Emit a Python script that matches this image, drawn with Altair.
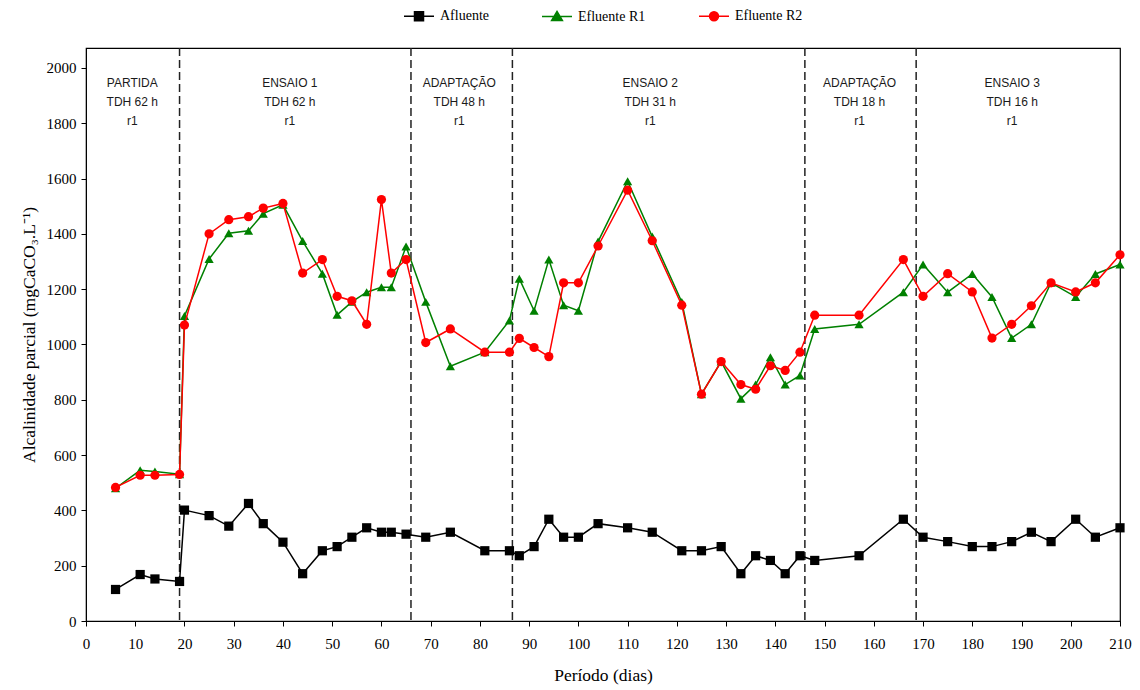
import altair as alt
import pandas as pd

# ---- data ----
DIAS = [6, 11, 14, 19, 20, 25, 29, 33, 36, 40, 44, 48, 51, 54, 57, 60, 62, 65,
        69, 74, 81, 86, 88, 91, 94, 97, 100, 104, 110, 115, 121, 125, 129, 133,
        136, 139, 142, 145, 148, 157, 166, 170, 175, 180, 184, 188, 192, 196,
        201, 205, 210]

AFLUENTE = [114, 168, 152, 143, 401, 381, 343, 425, 352, 285, 171, 254, 269, 303,
            337, 321, 321, 314, 303, 321, 254, 254, 236, 269, 368, 303, 303, 352,
            337, 321, 254, 254, 269, 171, 236, 219, 171, 236, 219, 236, 368, 303,
            287, 269, 269, 287, 321, 287, 368, 303, 337]

EFLUENTE_R1 = [480, 545, 541, 531, 1103, 1309, 1402, 1411, 1473, 1505, 1374, 1256,
               1107, 1154, 1189, 1207, 1207, 1354, 1154, 921, 972, 1087, 1238, 1122,
               1307, 1142, 1122, 1372, 1590, 1390, 1154, 820, 938, 804, 855, 954,
               855, 888, 1056, 1073, 1189, 1289, 1189, 1255, 1172, 1023, 1073, 1223,
               1172, 1255, 1289]

EFLUENTE_R2 = [483, 527, 527, 530, 1070, 1400, 1451, 1462, 1493, 1510, 1258, 1307,
               1174, 1158, 1073, 1524, 1258, 1307, 1007, 1056, 972, 972, 1022, 989,
               956, 1223, 1223, 1356, 1558, 1375, 1142, 820, 938, 855, 838, 923,
               906, 972, 1106, 1106, 1307, 1174, 1256, 1190, 1023, 1073, 1140, 1223,
               1190, 1223, 1324]

SERIES = ["Afluente", "Efluente R1", "Efluente R2"]
COLORS = ["#000000", "#008000", "#ff0000"]
SHAPES = ["square", "triangle-up", "circle"]
LEGEND_PATHS = [
    "M-1,0H1M-0.3,-0.3H0.3V0.3H-0.3Z",
    "M-1,0H1M0,-0.34L0.36,0.26H-0.36Z",
    "M-1,0H1M-0.3,0A0.3,0.3,0,1,0,0.3,0A0.3,0.3,0,1,0,-0.3,0Z",
]

DIVISOES = [19, 66, 86.6, 146, 168.6]

FASES = ["PARTIDA\nTDH 62 h\nr1", "ENSAIO 1\nTDH 62 h\nr1",
         "ADAPTAÇÃO\nTDH 48 h\nr1", "ENSAIO 2\nTDH 31 h\nr1",
         "ADAPTAÇÃO\nTDH 18 h\nr1", "ENSAIO 3\nTDH 16 h\nr1"]
FASES_X = [9.4, 41.4, 75.8, 114.6, 157.1, 188.1]
FASES_Y = 1946

# ---- build tables ----
valores = {"Afluente": AFLUENTE, "Efluente R1": EFLUENTE_R1, "Efluente R2": EFLUENTE_R2}
long = pd.concat(
    [pd.DataFrame({"dia": DIAS, "valor": valores[s], "serie": s}) for s in SERIES],
    ignore_index=True,
)

SERIF = "Liberation Serif"
SANS = "Liberation Sans"

x_enc = alt.X(
    "dia:Q",
    scale=alt.Scale(domain=[0, 210], nice=False, zero=False),
    axis=alt.Axis(
        values=list(range(0, 211, 10)), title="Período (dias)", grid=False,
        labelFont=SERIF, labelFontSize=15, labelColor="black", labelPadding=10,
        titleFont=SERIF, titleFontSize=17.5, titleFontWeight="normal", titleColor="black",
        titlePadding=15, tickSize=5, tickColor="black", domainColor="black",
        labelFlush=False, format="d",
    ),
)
y_enc = alt.Y(
    "valor:Q",
    scale=alt.Scale(domain=[0, 2072], nice=False),
    axis=alt.Axis(
        values=list(range(0, 2001, 200)), title="Alcalinidade parcial (mgCaCO₃.L⁻¹)",
        grid=False, labelFont=SERIF, labelFontSize=15, labelColor="black",
        labelPadding=5, titleFont=SERIF, titleFontSize=17.5, titleFontWeight="normal",
        titleColor="black", titlePadding=8, tickSize=5, tickColor="black",
        domainColor="black", labelFlush=False, format="d",
    ),
)

layers = []

rules = alt.Chart(pd.DataFrame({"dia": DIVISOES})).mark_rule(
    strokeDash=[8, 4], strokeWidth=1.5, color="#222222"
).encode(x=alt.X("dia:Q"))
layers.append(rules)

for s, c, sh in zip(SERIES, COLORS, SHAPES):
    sub = alt.Chart(long).transform_filter(alt.datum.serie == s)
    layers.append(sub.mark_line(color=c, strokeWidth=1.5).encode(x=x_enc, y=y_enc))
    layers.append(
        sub.mark_point(shape=sh, filled=True, color=c, size=85, opacity=1).encode(
            x=x_enc, y=y_enc
        )
    )

legend = alt.Legend(
    orient="none", legendX=317, legendY=-48, direction="horizontal", title=None,
    labelFont=SERIF, labelFontSize=14, labelColor="black", labelOffset=5,
    symbolSize=900, symbolStrokeWidth=1.5, columnPadding=50, padding=0,
    symbolOpacity=1,
)
legend_layer = alt.Chart(long).transform_filter("false").mark_point(
    filled=True, size=900, strokeWidth=1.5
).encode(
    x=x_enc, y=y_enc,
    fill=alt.Fill("serie:N", scale=alt.Scale(domain=SERIES, range=COLORS), legend=legend),
    stroke=alt.Stroke("serie:N", scale=alt.Scale(domain=SERIES, range=COLORS), legend=legend),
    shape=alt.Shape("serie:N", scale=alt.Scale(domain=SERIES, range=LEGEND_PATHS), legend=legend),
)
layers.append(legend_layer)

texts = alt.Chart(pd.DataFrame({"dia": FASES_X, "valor": [FASES_Y] * len(FASES), "txt": FASES})).mark_text(
    lineBreak="\n", lineHeight=19, baseline="middle", align="center",
    font=SANS, fontSize=12, color="#1a1a1a",
).encode(x=alt.X("dia:Q"), y=alt.Y("valor:Q"), text="txt:N")
layers.append(texts)

chart = alt.layer(*layers).properties(
    width=1034, height=573,
    autosize=alt.AutoSizeParams(type="none"),
    padding={"left": 86, "top": 48, "right": 20, "bottom": 69},
    background="white",
).configure_view(stroke="black", strokeWidth=1.2)

chart.save("out.html", embed_options={"renderer": "svg", "actions": False})
